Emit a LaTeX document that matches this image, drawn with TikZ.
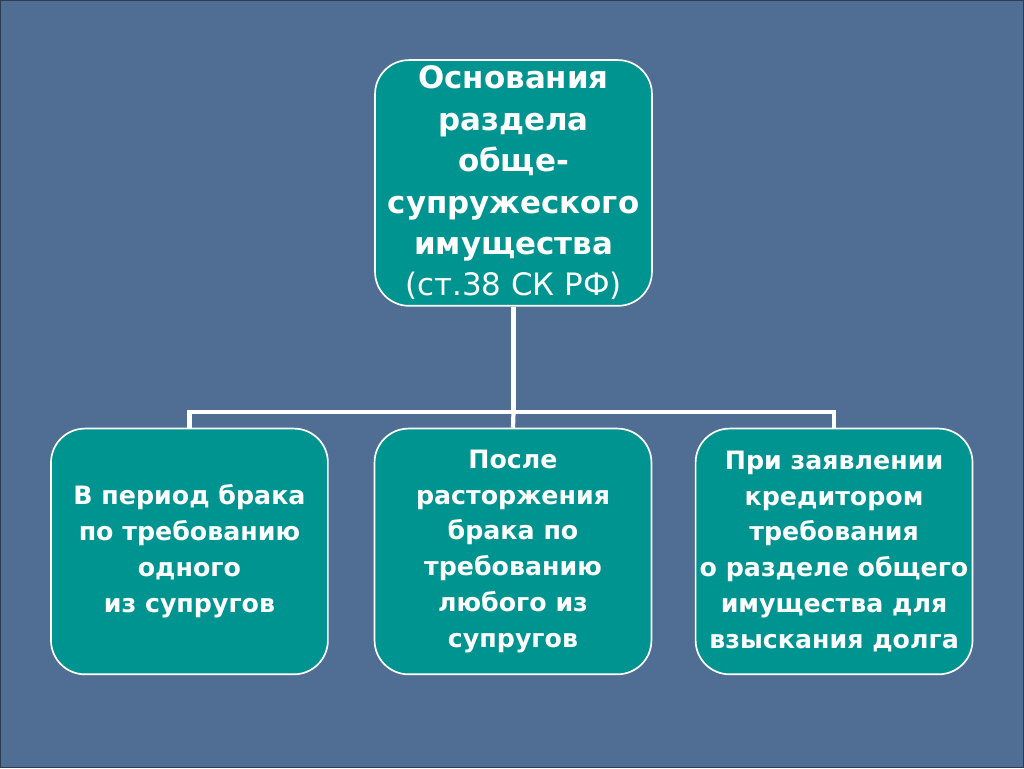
\documentclass[tikz,border=0pt]{standalone}
\usepackage{fontspec}
\setmainfont{DejaVu Sans}
\definecolor{slideblue}{RGB}{80,110,148}
\definecolor{tealbox}{RGB}{0,148,144}

\begin{document}
\begin{tikzpicture}[x=0.025cm, y=-0.025cm]
%------------------------------------------------------------------------------------------------
% Slide background

    \tikzset{basis/.style={draw=white, line width=1.2pt, fill=tealbox,
            rounded corners=0.85cm, text=white, align=center, inner sep=0pt,
            minimum width=6.93cm, minimum height=6.15cm},
        headtext/.style={font=\bfseries\fontsize{22}{29.5}\selectfont},
        casetext/.style={font=\bfseries\fontsize{18}{25.6}\selectfont},
        link/.style={draw=white, line width=3pt}
    }
    \fill[slideblue] (0,0) rectangle (1024,768);
    \draw[slideblue!55!black, line width=1pt] (0,0) rectangle (1024,768);
    \useasboundingbox (0,0) rectangle (1024,768);
%------------------------------------------------------------------------------------------------
% boxes
    \node [basis, headtext] (osnov) at (513.5,182.5) {Основания\\раздела\\обще-\\супружеского\\имущества\\{\mdseries(ст.38 СК РФ)}};
    \node [basis, casetext] (period) at (189,551.5) {В период брака\\по требованию\\одного\\из супругов};
    \node [basis, casetext] (divorce) at (513,551.5) {После\\расторжения\\брака по\\требованию\\любого из\\супругов};
    \node [basis, casetext] (credit) at (834.5,551.5) {При заявлении\\кредитором\\требования\\о разделе общего\\имущества для\\взыскания долга};
%------------------------------------------------------------------------------------------------
% tree lines
    \draw[link] (osnov.south) -- (osnov.south |- 0,412) coordinate(fork);
    \draw[link] (period.north) |- (fork) -| (credit.north);
    \draw[link] (fork) -- (divorce.north);

\end{tikzpicture}
\end{document}
